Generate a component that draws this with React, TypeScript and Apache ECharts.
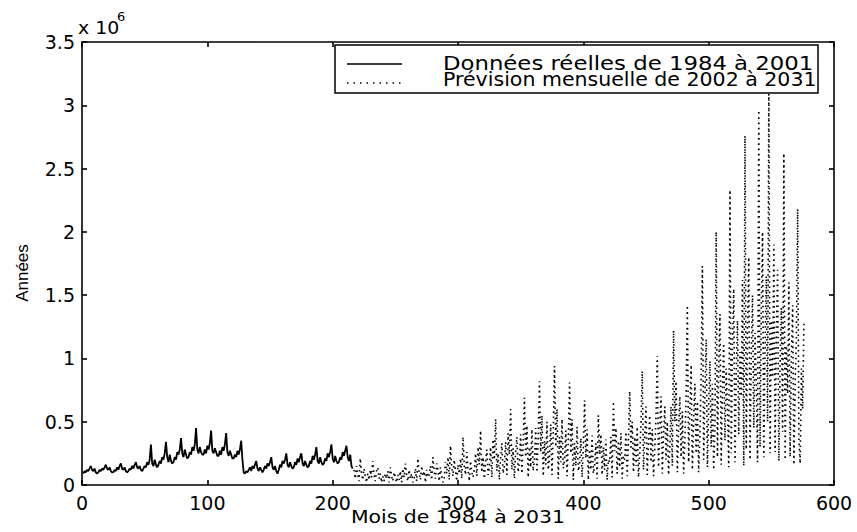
import React, { useEffect, useRef } from "react";
import * as echarts from "echarts";

// Monthly values (millions) 1984-2001
const observed: number[] = [
  0.09, 0.11, 0.10, 0.12, 0.11, 0.13, 0.15, 0.12, 0.11, 0.13, 0.10, 0.09,
  0.10, 0.12, 0.11, 0.13, 0.12, 0.14, 0.16, 0.13, 0.12, 0.14, 0.11, 0.10,
  0.10, 0.12, 0.11, 0.14, 0.12, 0.15, 0.17, 0.13, 0.12, 0.14, 0.11, 0.10,
  0.11, 0.13, 0.12, 0.15, 0.13, 0.16, 0.18, 0.14, 0.13, 0.15, 0.12, 0.11,
  0.13, 0.15, 0.14, 0.18, 0.16, 0.20, 0.32, 0.17, 0.15, 0.20, 0.16, 0.14,
  0.16, 0.19, 0.17, 0.22, 0.20, 0.25, 0.34, 0.22, 0.18, 0.24, 0.19, 0.17,
  0.18, 0.22, 0.20, 0.26, 0.24, 0.28, 0.37, 0.25, 0.22, 0.28, 0.24, 0.21,
  0.22, 0.26, 0.24, 0.30, 0.27, 0.32, 0.45, 0.28, 0.25, 0.30, 0.26, 0.24,
  0.24, 0.28, 0.25, 0.31, 0.28, 0.33, 0.43, 0.27, 0.25, 0.29, 0.26, 0.23,
  0.23, 0.27, 0.24, 0.30, 0.27, 0.32, 0.41, 0.26, 0.23, 0.27, 0.24, 0.21,
  0.21, 0.24, 0.22, 0.27, 0.24, 0.28, 0.35, 0.20, 0.10, 0.09, 0.11, 0.10,
  0.12, 0.14, 0.11, 0.15, 0.13, 0.16, 0.19, 0.13, 0.11, 0.14, 0.12, 0.10,
  0.12, 0.15, 0.13, 0.17, 0.15, 0.18, 0.22, 0.14, 0.12, 0.15, 0.11, 0.09,
  0.12, 0.16, 0.14, 0.19, 0.17, 0.20, 0.25, 0.16, 0.14, 0.18, 0.15, 0.13,
  0.14, 0.18, 0.16, 0.21, 0.18, 0.22, 0.25, 0.17, 0.15, 0.19, 0.16, 0.14,
  0.15, 0.19, 0.17, 0.23, 0.20, 0.24, 0.30, 0.19, 0.17, 0.22, 0.18, 0.16,
  0.17, 0.21, 0.19, 0.25, 0.22, 0.26, 0.32, 0.21, 0.18, 0.23, 0.19, 0.17,
  0.18, 0.22, 0.20, 0.26, 0.23, 0.27, 0.31, 0.22, 0.19, 0.24, 0.15, 0.13,
];

// Monthly forecast (millions) 2002-2031
const forecast: number[] = [
  0.12, 0.05, 0.15, 0.08, 0.03, 0.21, 0.10, 0.04, 0.13, 0.07, 0.02, 0.09,
  0.04, 0.12, 0.06, 0.19, 0.08, 0.03, 0.11, 0.14, 0.05, 0.09, 0.02, 0.07,
  0.03, 0.09, 0.05, 0.11, 0.02, 0.14, 0.07, 0.03, 0.10, 0.06, 0.02, 0.08,
  0.04, 0.11, 0.02, 0.13, 0.06, 0.17, 0.08, 0.03, 0.12, 0.05, 0.09, 0.02,
  0.05, 0.13, 0.03, 0.21, 0.09, 0.04, 0.15, 0.07, 0.11, 0.02, 0.12, 0.06,
  0.08, 0.15, 0.04, 0.22, 0.10, 0.05, 0.17, 0.12, 0.03, 0.14, 0.07, 0.02,
  0.06, 0.18, 0.09, 0.22, 0.04, 0.31, 0.14, 0.07, 0.20, 0.11, 0.03, 0.16,
  0.09, 0.21, 0.05, 0.38, 0.15, 0.08, 0.26, 0.12, 0.03, 0.19, 0.10, 0.06,
  0.12, 0.25, 0.07, 0.30, 0.16, 0.43, 0.10, 0.22, 0.05, 0.18, 0.28, 0.08,
  0.14, 0.30, 0.06, 0.36, 0.20, 0.52, 0.11, 0.25, 0.04, 0.22, 0.33, 0.09,
  0.15, 0.34, 0.08, 0.41, 0.24, 0.60, 0.12, 0.29, 0.05, 0.26, 0.38, 0.10,
  0.18, 0.40, 0.09, 0.33, 0.69, 0.22, 0.47, 0.06, 0.30, 0.14, 0.44, 0.11,
  0.20, 0.45, 0.10, 0.38, 0.82, 0.26, 0.55, 0.07, 0.35, 0.16, 0.50, 0.12,
  0.22, 0.48, 0.08, 0.42, 0.94, 0.30, 0.60, 0.05, 0.38, 0.18, 0.52, 0.13,
  0.19, 0.43, 0.07, 0.36, 0.81, 0.25, 0.52, 0.04, 0.33, 0.15, 0.46, 0.11,
  0.16, 0.37, 0.06, 0.30, 0.67, 0.21, 0.44, 0.04, 0.28, 0.12, 0.39, 0.09,
  0.15, 0.33, 0.05, 0.55, 0.24, 0.40, 0.08, 0.30, 0.12, 0.36, 0.04, 0.20,
  0.18, 0.38, 0.06, 0.66, 0.27, 0.45, 0.09, 0.35, 0.14, 0.41, 0.05, 0.23,
  0.20, 0.42, 0.07, 0.35, 0.74, 0.28, 0.50, 0.10, 0.38, 0.15, 0.46, 0.06,
  0.25, 0.48, 0.90, 0.12, 0.40, 0.62, 0.08, 0.35, 0.55, 0.18, 0.44, 0.07,
  0.28, 0.55, 1.02, 0.14, 0.46, 0.70, 0.09, 0.40, 0.62, 0.20, 0.50, 0.08,
  0.30, 0.62, 0.15, 1.22, 0.50, 0.82, 0.10, 0.45, 0.70, 0.22, 0.58, 0.09,
  0.35, 0.70, 1.42, 0.18, 0.60, 0.95, 0.12, 0.52, 0.80, 0.25, 0.66, 0.10,
  0.40, 0.85, 1.73, 0.20, 0.72, 1.15, 0.14, 0.62, 0.98, 0.30, 0.80, 0.12,
  0.45, 2.00, 0.22, 0.95, 1.35, 0.16, 0.78, 1.12, 0.35, 0.92, 0.60, 0.14,
  2.33, 0.25, 1.10, 1.55, 0.18, 0.88, 1.30, 0.40, 1.05, 0.70, 1.62, 0.15,
  2.76, 0.28, 1.25, 1.80, 0.20, 1.02, 1.50, 0.45, 1.20, 0.80, 0.18, 2.96,
  0.30, 1.40, 2.00, 0.22, 1.10, 1.65, 0.50, 3.09, 0.25, 1.30, 0.85, 1.90,
  0.26, 1.20, 1.70, 0.19, 0.95, 1.40, 0.42, 2.62, 0.20, 1.10, 0.72, 1.60,
  0.22, 1.00, 1.42, 0.16, 0.80, 1.18, 2.18, 0.35, 0.17, 0.92, 0.60, 1.30,
];

const forecastStartMonth = 217;
const legendLabels = ["Données réelles de 1984 à 2001", "Prévision mensuelle de 2002 à 2031"];
const xTitle = "Mois de 1984 à 2031";
const yTitle = "Années";

export default function App() {
  const ref = useRef<HTMLDivElement>(null);
  useEffect(() => {
    if (!ref.current) return;
    const chart = echarts.init(ref.current, null, { renderer: "svg" });
    const obsData = observed.map((v, i) => [i + 1, v]);
    const fcData = forecast.map((v, i) => [forecastStartMonth + i, v]);
    const black = "#000";
    const labelStyle = { color: black, fontFamily: "DejaVu Sans", fontSize: 19 };
    const axisBase = {
      type: "value",
      axisLine: { show: true, onZero: false, lineStyle: { color: black, width: 1.6 } },
      axisTick: { show: true, inside: true, length: 5, lineStyle: { color: black, width: 1.6 } },
      splitLine: { show: false },
    };
    const txt = { fontFamily: "DejaVu Sans", fill: black, verticalAlign: "middle", textVerticalAlign: "middle" };
    chart.setOption({
      animation: false,
      backgroundColor: "#fff",
      grid: { left: 82, right: 23, top: 42, bottom: 47 },
      xAxis: [
        { ...axisBase, min: 0, max: 600, interval: 100, position: "bottom",
          axisLabel: { ...labelStyle, margin: 8 } },
        { ...axisBase, min: 0, max: 600, interval: 100, position: "top", axisLabel: { show: false } },
      ],
      yAxis: [
        { ...axisBase, min: 0, max: 3.5, interval: 0.5, position: "left",
          axisLabel: { ...labelStyle, margin: 7 } },
        { ...axisBase, min: 0, max: 3.5, interval: 0.5, position: "right", axisLabel: { show: false } },
      ],
      series: [
        { type: "line", name: legendLabels[0], xAxisIndex: 0, yAxisIndex: 0, data: obsData,
          symbol: "none", lineStyle: { color: black, width: 1.8 } },
        { type: "line", name: legendLabels[1], xAxisIndex: 0, yAxisIndex: 0, data: fcData,
          symbol: "none", lineStyle: { color: black, width: 1.6, type: [1.6, 3.6] } },
      ],
      graphic: [
        { type: "text", x: 78, y: 28, scaleX: 1.05, style: { ...txt, text: "x 10", fontSize: 18 } },
        { type: "text", x: 117, y: 16, style: { ...txt, text: "6", fontSize: 13 } },
        { type: "rect", z: 100, shape: { x: 335, y: 45, width: 483, height: 48 },
          style: { fill: "#fff", stroke: black, lineWidth: 1.5 } },
        { type: "line", z: 101, shape: { x1: 347, y1: 64, x2: 402, y2: 64 }, style: { stroke: black, lineWidth: 1.5 } },
        { type: "line", z: 101, shape: { x1: 347, y1: 83, x2: 402, y2: 83 }, style: { stroke: black, lineWidth: 1.5, lineDash: [1.5, 5] } },
        { type: "text", z: 101, x: 443, y: 64, scaleX: 1.2,
          style: { ...txt, text: legendLabels[0], fontSize: 19 } },
        { type: "text", z: 101, x: 443, y: 80, scaleX: 1.08,
          style: { ...txt, text: legendLabels[1], fontSize: 19 } },
        { type: "text", x: 458, y: 526, scaleX: 1.2,
          style: { fontFamily: "DejaVu Sans", fill: black, text: xTitle, fontSize: 17,
            align: "center", textAlign: "center", verticalAlign: "bottom", textVerticalAlign: "bottom" } },
        { type: "text", x: 22, y: 273, rotation: Math.PI / 2,
          style: { ...txt, text: yTitle, fontFamily: "Liberation Sans", fontSize: 17, align: "center", textAlign: "center" } },
      ],
    });
    return () => chart.dispose();
  }, []);
  return <div ref={ref} style={{ position: "absolute", left: 0, top: 0, width: 857, height: 532 }} />;
}
